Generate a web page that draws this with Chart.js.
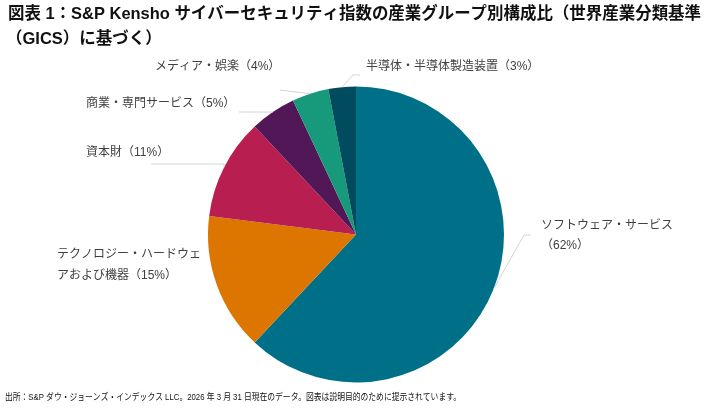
<!DOCTYPE html>
<html>
<head>
<meta charset="utf-8">
<script src="https://cdn.jsdelivr.net/npm/chart.js@4.4.1/dist/chart.umd.min.js"></script>
<style>
  html, body { margin: 0; padding: 0; background: #ffffff; }
  #wrap { width: 709px; height: 416px; position: relative; }
</style>
</head>
<body>
<div id="wrap"><canvas id="c" width="709" height="416"></canvas></div>
<script>
// ---- data ----
const categories = [
  'ソフトウェア・サービス',
  'テクノロジー・ハードウェアおよび機器',
  '資本財',
  '商業・専門サービス',
  'メディア・娯楽',
  '半導体・半導体製造装置'
];
const values = [62, 15, 11, 5, 4, 3];
const titleLines = [
  '図表 1：S&P Kensho サイバーセキュリティ指数の産業グループ別構成比（世界産業分類基準',
  '（GICS）に基づく）'
];
const sourceNote = '出所：S&P ダウ・ジョーンズ・インデックス LLC。2026 年 3 月 31 日現在のデータ。図表は説明目的のために提示されています。';

// ---- styles / layout ----
const colors = ['#006f88', '#dc7600', '#b81f50', '#521756', '#179a7c', '#004b5e'];
const FONT_FAMILY = '"Liberation Sans", Arial, "Noto Sans CJK JP", sans-serif';
// label layout: text x/y (first line centre), line break index, leader path (elbow points)
const labelLayout = [
  { x: 541, y: 226, lh: 20, wrap: 11, path: [[524, 235], [531, 235]] },
  { x: 57,  y: 255, lh: 21, wrap: 12, path: null },
  { x: 86,  y: 153, lh: 20, wrap: null, path: [[224, 164], [151, 164]] },
  { x: 86,  y: 104, lh: 20, wrap: null, path: [[239, 112]] },
  { x: 155, y: 67,  lh: 20, wrap: null, path: [[280, 90]] },
  { x: 366, y: 67,  lh: 20, wrap: null, path: [[353, 75], [360, 75]] }
];

const overlay = {
  id: 'overlay',
  afterDraw(chart) {
    const ctx = chart.ctx;
    ctx.save();
    // title
    ctx.fillStyle = '#111111';
    ctx.textBaseline = 'middle';
    ctx.textAlign = 'left';
    ctx.font = 'bold 16.5px ' + FONT_FAMILY;
    ctx.fillText(titleLines[0], 8, 14, 693);
    ctx.fillText(titleLines[1], 6, 39);
    // footer
    ctx.font = '9.5px ' + FONT_FAMILY;
    ctx.fillStyle = '#111111';
    ctx.fillText(sourceNote, 5, 397, 456);

    // leaders + labels
    const meta = chart.getDatasetMeta(0);
    meta.data.forEach((arc, i) => {
      const L = labelLayout[i];
      const mid = (arc.startAngle + arc.endAngle) / 2;
      const sx = arc.x + Math.cos(mid) * arc.outerRadius;
      const sy = arc.y + Math.sin(mid) * arc.outerRadius;
      if (L.path) {
        ctx.strokeStyle = '#d4d4d4';
        ctx.lineWidth = 1;
        ctx.beginPath();
        ctx.moveTo(sx, sy);
        L.path.forEach(p => ctx.lineTo(p[0], p[1]));
        ctx.stroke();
      }
      const full = categories[i] + '（' + values[i] + '%）';
      const lines = L.wrap ? [full.slice(0, L.wrap), full.slice(L.wrap)] : [full];
      ctx.font = '12px ' + FONT_FAMILY;
      ctx.fillStyle = '#404040';
      ctx.textAlign = 'left';
      lines.forEach((t, k) => ctx.fillText(t, L.x, L.y + k * L.lh));
    });
    ctx.restore();
  }
};

new Chart(document.getElementById('c'), {
  type: 'pie',
  data: {
    labels: categories,
    datasets: [{
      data: values,
      backgroundColor: colors,
      borderWidth: 0
    }]
  },
  options: {
    responsive: false,
    animation: false,
    layout: { padding: { left: 208, right: 205, top: 86, bottom: 33 } },
    plugins: {
      legend: { display: false },
      tooltip: { enabled: false },
      title: { display: false }
    }
  },
  plugins: [overlay]
});
</script>
</body>
</html>
